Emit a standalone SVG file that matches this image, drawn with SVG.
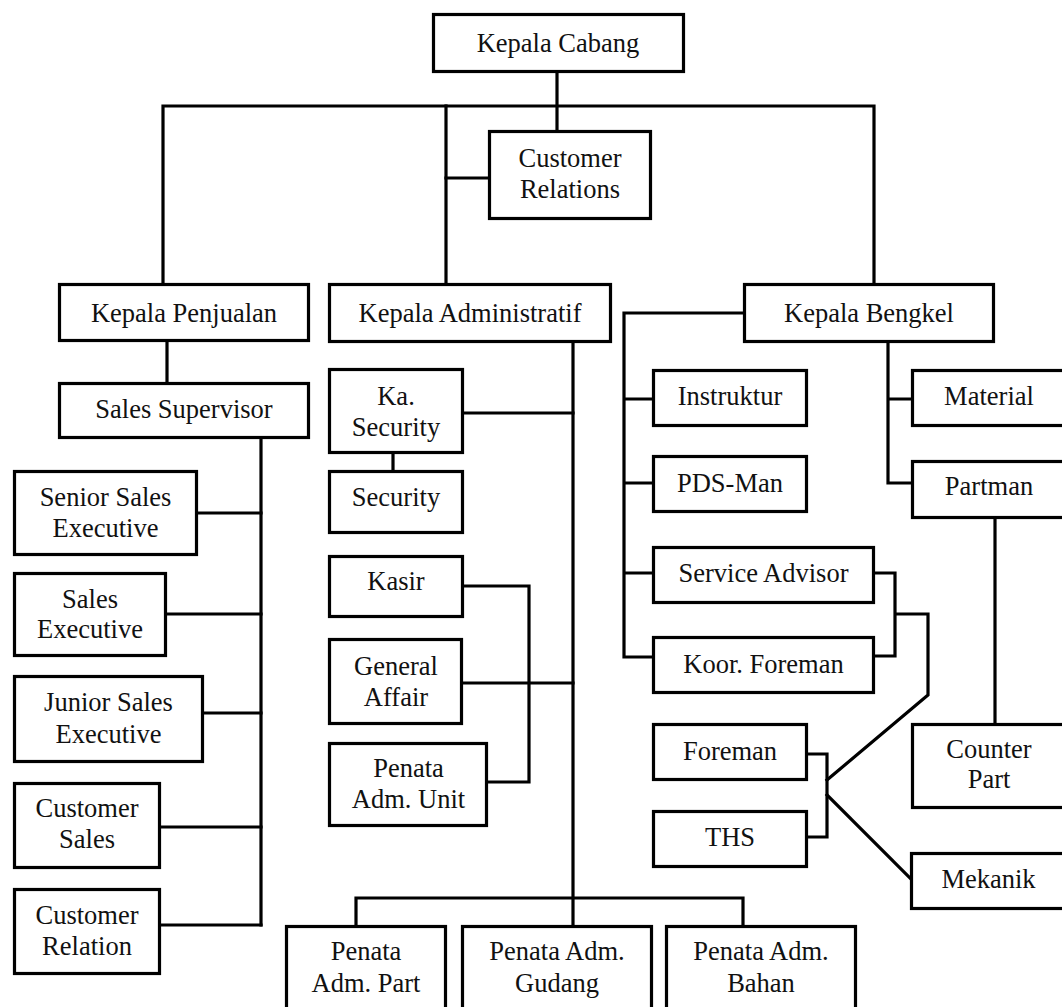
<svg xmlns="http://www.w3.org/2000/svg" width="1062" height="1007" viewBox="0 0 1062 1007">
<style>
.box{fill:#fff;stroke:#000;stroke-width:3.2}
.t{font-family:"Liberation Serif","Times New Roman",serif;font-size:26.5px;fill:#111;text-anchor:middle}
.c{fill:none;stroke:#000;stroke-width:3.2;stroke-linejoin:miter;stroke-linecap:square}
</style>
<rect width="1062" height="1007" fill="#fff"/>
<g id="connectors">
<path class="c" d="M557 73V130"/>
<path class="c" d="M163 283V106H874V283"/>
<path class="c" d="M446 106V283"/>
<path class="c" d="M446 178H489"/>
<path class="c" d="M167 342V382"/>
<path class="c" d="M261 439V925"/>
<path class="c" d="M198 513H261M167 614H261M204 713H261M161 827H261M161 925H261"/>
<path class="c" d="M393 454V470"/>
<path class="c" d="M573 343V925"/>
<path class="c" d="M464 413H573M463 683H573"/>
<path class="c" d="M464 586H529V782H488"/>
<path class="c" d="M356 925V898H743V925"/>
<path class="c" d="M743 313H624V657H652M624 399H652M624 483H652M624 573H652"/>
<path class="c" d="M875 573H895V656H875M895 614H928V695L827 780"/>
<path class="c" d="M808 754H827V837H808"/>
<path class="c" d="M827 795L910 878"/>
<path class="c" d="M888 343V483H911M888 399H911"/>
<path class="c" d="M995 519V723"/>
</g>
<g id="kepala-cabang"><rect class="box" x="433.5" y="14.5" width="250" height="57"/><text class="t" x="558" y="52">Kepala Cabang</text></g>
<g id="customer-relations"><rect class="box" x="489.5" y="131.5" width="161" height="87"/><text class="t" x="570" y="167">Customer</text><text class="t" x="570" y="198">Relations</text></g>
<g id="kepala-penjualan"><rect class="box" x="59.5" y="284.5" width="249" height="56"/><text class="t" x="184" y="322">Kepala Penjualan</text></g>
<g id="kepala-administratif"><rect class="box" x="329.5" y="284.5" width="281" height="57"/><text class="t" x="470" y="322">Kepala Administratif</text></g>
<g id="kepala-bengkel"><rect class="box" x="744.5" y="284.5" width="249" height="57"/><text class="t" x="869" y="322">Kepala Bengkel</text></g>
<g id="sales-supervisor"><rect class="box" x="59.5" y="383.5" width="249" height="54"/><text class="t" x="184" y="418">Sales Supervisor</text></g>
<g id="senior-sales-executive"><rect class="box" x="14.5" y="471.5" width="182" height="83"/><text class="t" x="105.5" y="506">Senior Sales</text><text class="t" x="105.5" y="537">Executive</text></g>
<g id="sales-executive"><rect class="box" x="14.5" y="573.5" width="151" height="82"/><text class="t" x="90" y="608">Sales</text><text class="t" x="90" y="638">Executive</text></g>
<g id="junior-sales-executive"><rect class="box" x="14.5" y="676.5" width="188" height="85"/><text class="t" x="108.5" y="711">Junior Sales</text><text class="t" x="108.5" y="743">Executive</text></g>
<g id="customer-sales"><rect class="box" x="14.5" y="783.5" width="145" height="84"/><text class="t" x="87" y="817">Customer</text><text class="t" x="87" y="848">Sales</text></g>
<g id="customer-relation"><rect class="box" x="14.5" y="889.5" width="145" height="84"/><text class="t" x="87" y="924">Customer</text><text class="t" x="87" y="955">Relation</text></g>
<g id="ka-security"><rect class="box" x="329.5" y="369.5" width="133" height="83"/><text class="t" x="396" y="405">Ka.</text><text class="t" x="396" y="436">Security</text></g>
<g id="security"><rect class="box" x="329.5" y="471.5" width="133" height="61"/><text class="t" x="396" y="506">Security</text></g>
<g id="kasir"><rect class="box" x="329.5" y="556.5" width="133" height="60"/><text class="t" x="396" y="590">Kasir</text></g>
<g id="general-affair"><rect class="box" x="329.5" y="639.5" width="132" height="84"/><text class="t" x="396" y="675">General</text><text class="t" x="396" y="706">Affair</text></g>
<g id="penata-adm-unit"><rect class="box" x="329.5" y="743.5" width="157" height="82"/><text class="t" x="408.5" y="777">Penata</text><text class="t" x="408.5" y="808">Adm. Unit</text></g>
<g id="penata-adm-part"><rect class="box" x="286.5" y="926.5" width="159" height="100"/><text class="t" x="366" y="960">Penata</text><text class="t" x="366" y="992">Adm. Part</text></g>
<g id="penata-adm-gudang"><rect class="box" x="462.5" y="926.5" width="189" height="100"/><text class="t" x="557" y="960">Penata Adm.</text><text class="t" x="557" y="992">Gudang</text></g>
<g id="penata-adm-bahan"><rect class="box" x="666.5" y="926.5" width="189" height="100"/><text class="t" x="761" y="960">Penata Adm.</text><text class="t" x="761" y="992">Bahan</text></g>
<g id="instruktur"><rect class="box" x="653.5" y="370.5" width="153" height="55"/><text class="t" x="730" y="405">Instruktur</text></g>
<g id="pds-man"><rect class="box" x="653.5" y="456.5" width="153" height="55"/><text class="t" x="730" y="492">PDS-Man</text></g>
<g id="service-advisor"><rect class="box" x="653.5" y="547.5" width="220" height="55"/><text class="t" x="763.5" y="582">Service Advisor</text></g>
<g id="koor-foreman"><rect class="box" x="653.5" y="637.5" width="220" height="55"/><text class="t" x="763.5" y="673">Koor. Foreman</text></g>
<g id="foreman"><rect class="box" x="653.5" y="724.5" width="153" height="55"/><text class="t" x="730" y="760">Foreman</text></g>
<g id="ths"><rect class="box" x="653.5" y="811.5" width="153" height="55"/><text class="t" x="730" y="846">THS</text></g>
<g id="material"><rect class="box" x="912.5" y="370.5" width="153" height="55"/><text class="t" x="989" y="405">Material</text></g>
<g id="partman"><rect class="box" x="912.5" y="461.5" width="153" height="56"/><text class="t" x="989" y="495">Partman</text></g>
<g id="counter-part"><rect class="box" x="912.5" y="724.5" width="153" height="83"/><text class="t" x="989" y="758">Counter</text><text class="t" x="989" y="788">Part</text></g>
<g id="mekanik"><rect class="box" x="911.5" y="853.5" width="154" height="55"/><text class="t" x="988.5" y="888">Mekanik</text></g>
</svg>
